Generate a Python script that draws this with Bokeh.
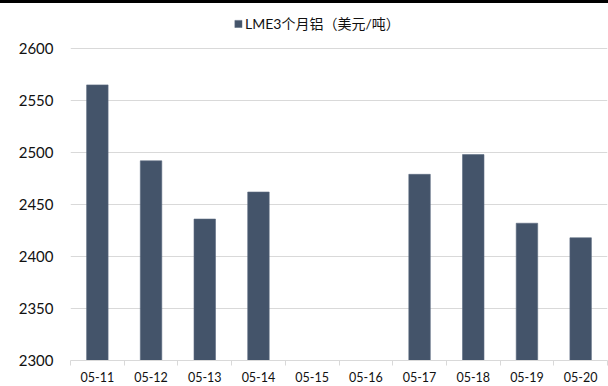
from bokeh.plotting import figure
from bokeh.models import (ColumnDataSource, Range1d, FixedTicker, Legend, LegendItem, Div)
from bokeh.layouts import column
from bokeh.embed import file_html
from bokeh.resources import INLINE

# LME 3-month aluminium, USD/t, daily closes (no quotes on 05-15 and 05-16)
dates = ["05-11", "05-12", "05-13", "05-14", "05-15",
         "05-16", "05-17", "05-18", "05-19", "05-20"]
prices = [2565, 2492, 2436, 2462, None, None, 2479, 2498, 2432, 2418]
series_name = "LME3个月铝（美元/吨）"
y_ticks = [2300, 2350, 2400, 2450, 2500, 2550, 2600]

BAR = "#44546A"
GRID = "#d9d9d9"
FONT = "Lato, 'Noto Sans CJK SC', sans-serif"

# pixel layout: value axis spans 312 px, with 45 px of headroom kept for the legend
AXIS_PX, HEAD_PX = 312, 45
y_top = y_ticks[-1] + HEAD_PX * (y_ticks[-1] - y_ticks[0]) / AXIS_PX

# slot i spans [i, i+1]; bars sit at slot centres, ticks on slot boundaries
xs = [i + 0.5 for i, v in enumerate(prices) if v is not None]
tops = [v for v in prices if v is not None]
src = ColumnDataSource(dict(x=xs, top=tops))

p = figure(width=608, height=383, output_backend="svg", toolbar_location=None,
           x_range=Range1d(0, len(dates)), y_range=Range1d(y_ticks[0], y_top),
           min_border_left=70, min_border_right=1, min_border_top=0,
           min_border_bottom=26, margin=0)
p.outline_line_color = None
p.background_fill_color = "white"
p.border_fill_color = "white"

r = p.vbar(x="x", top="top", bottom=y_ticks[0], width=0.4, source=src,
           fill_color=BAR, line_color="#5a6a80", line_width=0.6)

# y axis: labels only, light horizontal grid
p.yaxis.ticker = FixedTicker(ticks=y_ticks)
p.yaxis.axis_line_color = None
p.yaxis.major_tick_line_color = None
p.yaxis.minor_tick_line_color = None
p.yaxis.major_tick_out = 0
p.yaxis.major_tick_in = 0
p.yaxis.major_label_standoff = 17
p.yaxis.major_label_text_font = FONT
p.yaxis.major_label_text_font_size = "15px"
p.yaxis.major_label_text_color = "#111111"
p.ygrid.ticker = FixedTicker(ticks=y_ticks)
p.ygrid.grid_line_color = GRID
p.xgrid.grid_line_color = None

# x axis: date labels at slot centres, tick marks at slot boundaries
centres = [i + 0.5 for i in range(len(dates))]
p.xaxis.ticker = FixedTicker(ticks=centres, minor_ticks=list(range(len(dates) + 1)))
p.xaxis.major_label_overrides = {c: d for c, d in zip(centres, dates)}
p.xaxis.axis_line_color = GRID
p.xaxis.major_tick_line_color = None
p.xaxis.major_tick_out = 5
p.xaxis.major_tick_in = 0
p.xaxis.minor_tick_line_color = GRID
p.xaxis.minor_tick_out = 5
p.xaxis.minor_tick_in = 0
p.xaxis.major_label_standoff = 6
p.xaxis.major_label_text_font = FONT
p.xaxis.major_label_text_font_size = "12.5px"
p.xaxis.major_label_text_color = "#111111"

# legend in the headroom; a wide label box shifts the visible text left of centre
legend = Legend(items=[LegendItem(label=series_name, renderers=[r])],
                orientation="horizontal", location="top_center",
                glyph_width=9, glyph_height=9, label_standoff=3,
                label_width=199, label_height=16,
                label_text_font=FONT, label_text_font_size="14px",
                label_text_color="#111111",
                padding=0, margin=10, border_line_color=None,
                background_fill_alpha=0)
p.add_layout(legend, "center")

top_rule = Div(width=608, height=3, margin=0,
               styles={"background-color": "black"})
page = column(top_rule, p, spacing=0, margin=0)

open("out.html", "w").write(file_html(page, INLINE))
